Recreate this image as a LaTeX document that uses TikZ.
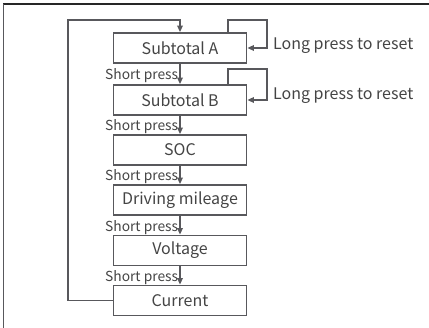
\documentclass[tikz,border=0pt]{standalone}
\usepackage{fontspec}
\setmainfont{Noto Sans CJK SC}
\usepackage{xcolor}
\usepackage{tikz}
\usetikzlibrary{arrows.meta, positioning, calc}

\definecolor{linegray}{HTML}{58585C}
\definecolor{textgray}{HTML}{444444}

\begin{document}
\begin{tikzpicture}[
    x=1pt, y=-1pt,
    box/.style={draw=linegray, line width=1.8pt, minimum width=133pt, minimum height=30pt, inner sep=0pt, text=textgray, font=\fontsize{16}{18}\selectfont},
    arr/.style={draw=linegray, line width=1.8pt, -{Triangle[length=6.5pt, width=5.5pt]}},
    lbl/.style={text=textgray, inner sep=1pt, font=\fontsize{13.8}{15}\selectfont},
    note/.style={text=textgray, inner sep=0pt, anchor=west, font=\fontsize{16}{18}\selectfont}
]
\useasboundingbox (0,0) rectangle (429,328);
% frame
\draw[line width=1.5pt, black!85] (3,4) -- (429,4);
\draw[line width=1.5pt, linegray] (3.5,4) -- (3.5,328);

% boxes
\node[box] (subA) at (180,48) {Subtotal A};
\node[box] (subB) at (180,100) {Subtotal B};
\node[box] (soc) at (180,150) {SOC};
\node[box] (mileage) at (180,200) {Driving mileage};
\node[box] (voltage) at (180,250.5) {Voltage};
\node[box] (current) at (180,300.5) {Current};

% short press
\draw[arr] (subA) -- node[lbl, pos=0.6, left] {Short press} (subB);
\draw[arr] (subB) -- node[lbl, pos=0.6, left] {Short press} (soc);
\draw[arr] (soc) -- node[lbl, pos=0.6, left] {Short press} (mileage);
\draw[arr] (mileage) -- node[lbl, pos=0.6, left] {Short press} (voltage);
\draw[arr] (voltage) -- node[lbl, pos=0.6, left] {Short press} (current);

% back to start
\coordinate (back) at (68,20);
\draw[arr] (current.west) -| (back) -| (subA.north);

% long press
\coordinate (loopA) at (267,20);
\coordinate (loopB) at (267,69);
\draw[arr] ([xshift=48pt]subA.north) |- (loopA) |- (subA.east);
\draw[arr] ([xshift=48pt]subB.north) |- (loopB) |- (subB.east);
\node[note] (longA) at (273,46) {Long press to reset};
\node[note] (longB) at (273,96) {Long press to reset};
\end{tikzpicture}
\end{document}
